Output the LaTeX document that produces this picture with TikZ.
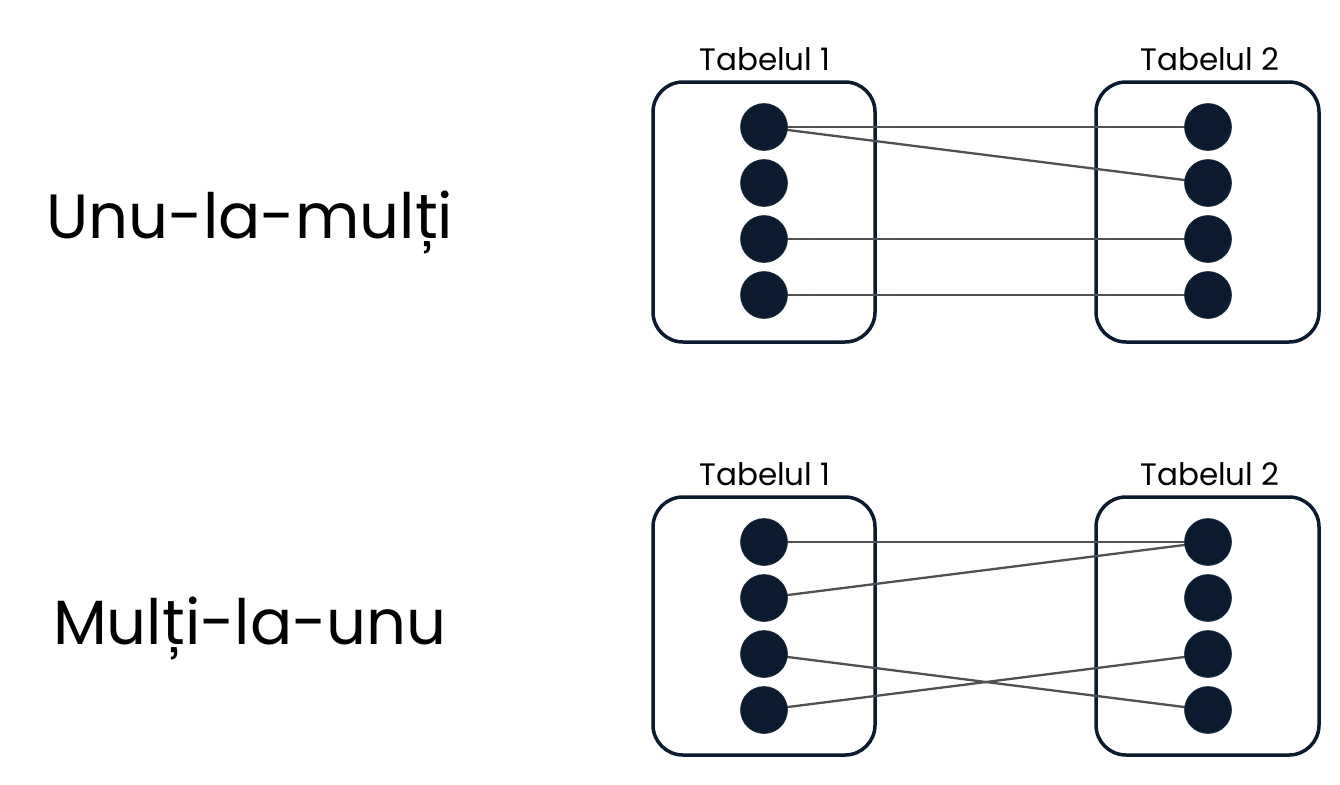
\documentclass[tikz,border=0pt]{standalone}
\usepackage{fontspec}
\setmainfont{Poppins}
\definecolor{navy}{HTML}{0B1A2E}
\definecolor{linegray}{HTML}{505050}
\begin{document}
\begin{tikzpicture}[x=1pt,y=-1pt,
  tablebox/.style={draw=navy,line width=3.5pt,rounded corners=30pt,fill=white},
  dot/.style={circle,fill=navy,draw=navy!80!gray,line width=0.6pt,minimum size=47pt,inner sep=0pt},
  link/.style={draw=linegray,line width=2.3pt},
  title/.style={font=\fontsize{31}{36}\selectfont,text=black},
  biglabel/.style={font=\fontsize{62.5}{70}\selectfont,text=black}]
\useasboundingbox (0,0) rectangle (1340,784);
% top section
\node[biglabel] (lab1) at (250,222) {Unu-la-mulți};
\draw[tablebox] (653,82) rectangle (875,342);
\draw[tablebox] (1096,82) rectangle (1319,342);
\node[title] (t11) at (765,59) {Tabelul 1};
\node[title] (t12) at (1210,59) {Tabelul 2};
\foreach \i/\y in {1/127,2/183,3/239,4/295}{
  \coordinate (a\i) at (764,\y);
  \coordinate (b\i) at (1208,\y);
}
\draw[link] (a1) -- (b1);
\draw[link] (a1) -- (b2);
\draw[link] (a3) -- (b3);
\draw[link] (a4) -- (b4);
\foreach \i in {1,...,4}{
  \node[dot] (da\i) at (a\i) {};
  \node[dot] (db\i) at (b\i) {};
}
% bottom section
\node[biglabel] (lab2) at (250,628) {Mulți-la-unu};
\draw[tablebox] (653,497) rectangle (875,755);
\draw[tablebox] (1096,497) rectangle (1319,755);
\node[title] (t21) at (765,474) {Tabelul 1};
\node[title] (t22) at (1210,474) {Tabelul 2};
\foreach \i/\y in {1/542,2/598,3/654,4/710}{
  \coordinate (c\i) at (764,\y);
  \coordinate (e\i) at (1208,\y);
}
\draw[link] (c1) -- (e1);
\draw[link] (c2) -- (e1);
\draw[link] (c3) -- (e4);
\draw[link] (c4) -- (e3);
\foreach \i in {1,...,4}{
  \node[dot] (dc\i) at (c\i) {};
  \node[dot] (de\i) at (e\i) {};
}
\end{tikzpicture}
\end{document}
